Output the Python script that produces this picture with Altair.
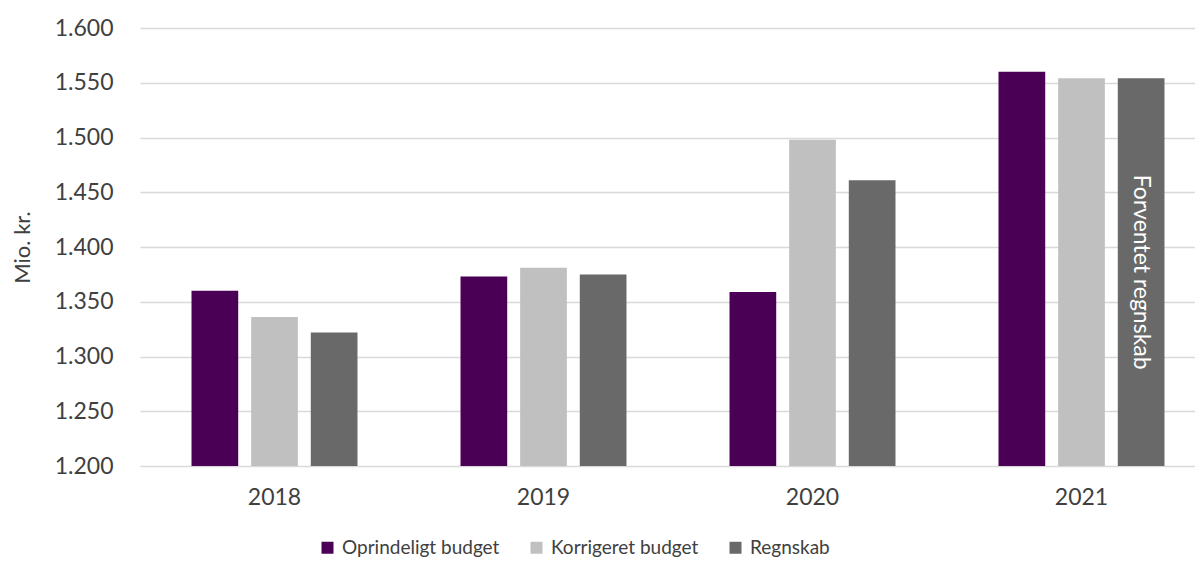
import altair as alt
import pandas as pd

years = ["2018", "2019", "2020", "2021"]
series = ["Oprindeligt budget", "Korrigeret budget", "Regnskab"]
oprindeligt = [1360, 1373, 1359, 1560]
korrigeret = [1336, 1381, 1498, 1554]
regnskab = [1322, 1375, 1461, 1554]
colors = ["#4a0055", "#c0c0c0", "#696969"]
y_ticks = [1200, 1250, 1300, 1350, 1400, 1450, 1500, 1550, 1600]
note_year = "2021"
note_series = "Regnskab"
note_text = "Forventet regnskab"

rows = []
for s, vals in zip(series, [oprindeligt, korrigeret, regnskab]):
    for yr, v in zip(years, vals):
        rows.append({"year": yr, "series": s, "value": v})
df = pd.DataFrame(rows)
note_df = df[(df.year == note_year) & (df.series == note_series)].copy()
note_df["label"] = note_text

FONT = "Lato"
TXT = "#404040"

x_enc = alt.X(
    "year:N",
    sort=years,
    scale=alt.Scale(range=[0, 1076], paddingInner=0.383, paddingOuter=0.1915),
    axis=alt.Axis(title=None, labelAngle=0, domain=False, ticks=False,
                  labelFontSize=23, labelPadding=20, labelColor=TXT, labelFont=FONT),
)
xoff_enc = alt.XOffset(
    "series:N",
    scale=alt.Scale(domain=series, paddingInner=0.217, paddingOuter=0),
)
y_enc = alt.Y(
    "value:Q",
    scale=alt.Scale(domain=[1200, 1600], nice=False, zero=False),
    axis=alt.Axis(
        values=y_ticks,
        title="Mio. kr.",
        titleFont=FONT, titleFontSize=22, titleFontWeight="normal", titleColor=TXT,
        titleX=-118, titleY=219, titleAlign="center", titleBaseline="middle", titleAngle=270,
        labelExpr="replace(format(datum.value, ','), ',', '.')",
        labelFont=FONT, labelFontSize=23, labelColor=TXT, labelPadding=27,
        grid=True, gridColor="#d9d9d9", gridWidth=1.5,
        domain=False, ticks=False,
    ),
)

bars = alt.Chart(df).mark_bar().encode(
    x=x_enc,
    xOffset=xoff_enc,
    y=y_enc,
    y2=alt.datum(1200),
    color=alt.Color(
        "series:N",
        scale=alt.Scale(domain=series, range=colors),
        legend=alt.Legend(
            title=None, orient="none", legendX=178, legendY=510,
            direction="horizontal", symbolType="square", symbolSize=144,
            symbolStrokeWidth=0, labelFont=FONT, labelFontSize=19, labelColor=TXT,
            labelLimit=400, columnPadding=27, labelOffset=5,
        ),
    ),
)

note = alt.Chart(note_df).transform_calculate(
    mid="(datum.value + 1200) / 2"
).mark_text(angle=90, color="white", font=FONT, fontSize=23,
            align="center", baseline="middle").encode(
    x=alt.X("year:N", sort=years),
    xOffset=alt.XOffset("series:N", scale=alt.Scale(domain=series)),
    y=alt.Y("mid:Q"),
    text="label:N",
)

chart = alt.layer(bars, note).properties(
    width=1055, height=438,
    autosize=alt.AutoSizeParams(type="none"),
    padding={"left": 132, "top": 20, "right": 0, "bottom": 92},
).configure_view(stroke=None)

chart.save("out.html", embed_options={"renderer": "svg", "actions": False})
